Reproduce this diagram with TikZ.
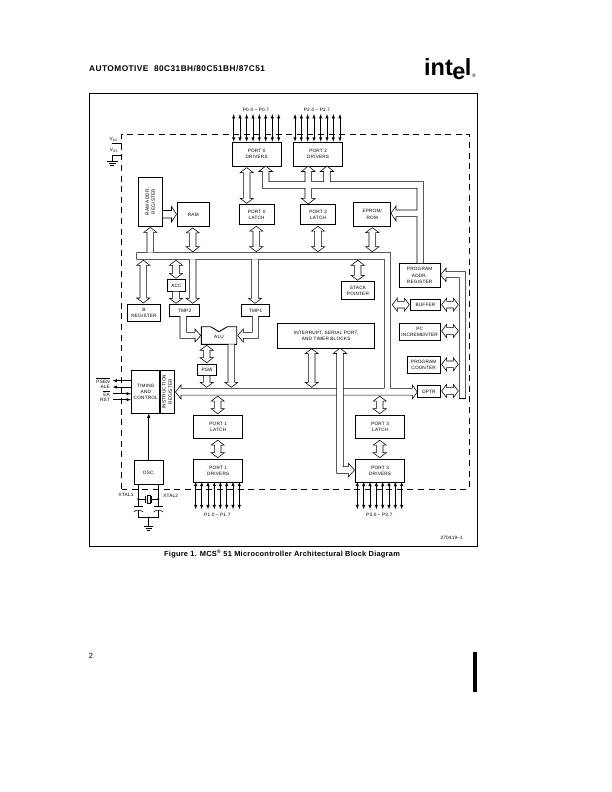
\documentclass[tikz,border=0pt]{standalone}
\usepackage{fontspec}
\setmainfont{Liberation Sans}
\newfontfamily\chipfont[LetterSpace=4]{Liberation Sans}
\newfontfamily\headfont[LetterSpace=5.5]{Liberation Sans}
\newfontfamily\capfont[LetterSpace=3.5]{Liberation Sans}
\usepackage{tikz}
\usetikzlibrary{calc, arrows, positioning}

\tikzset{
  block/.style={draw, line width=0.9pt, align=center, inner sep=0pt, font=\chipfont\fontsize{4.7}{6.2}\selectfont, anchor=north west},
  lbl/.style={inner sep=0pt, font=\chipfont\fontsize{4.7}{6.2}\selectfont},
  busline/.style={draw, fill=white, line width=0.55pt, line join=miter},
  wire/.style={line width=0.55pt},
  pin/.style={<->, >=latex, line width=0.55pt},
  dashbox/.style={line width=0.9pt, dash pattern=on 6pt off 4.6pt},
  bar/.style={line width=0.5pt}
}

% block with corners given in page units
\newcommand{\blk}[6]{\node[block, minimum width=#5-#3, minimum height=#6-#4] (#1) at (#3,#4) {#2};}
% two-way bus arrow, vertical: x, upper point, lower point
\newcommand{\vtwo}[3]{\draw[busline] let \p1=(#2), \p2=(#3) in
  (#1pt,\y1-1pt) -- (#1pt+6.6pt,\y1-6pt) -- (#1pt+3.3pt,\y1-6pt) -- (#1pt+3.3pt,\y2+6pt) -- (#1pt+6.6pt,\y2+6pt) -- (#1pt,\y2+1pt)
  -- (#1pt-6.6pt,\y2+6pt) -- (#1pt-3.3pt,\y2+6pt) -- (#1pt-3.3pt,\y1-6pt) -- (#1pt-6.6pt,\y1-6pt) -- cycle;}
% same, horizontal: y (from page top), left point, right point
\newcommand{\htwo}[3]{\draw[busline] let \p1=(#2), \p2=(#3) in
  (\x1+1pt,-#1pt) -- (\x1+6pt,-#1pt+6.6pt) -- (\x1+6pt,-#1pt+3.3pt) -- (\x2-6pt,-#1pt+3.3pt) -- (\x2-6pt,-#1pt+6.6pt) -- (\x2-1pt,-#1pt)
  -- (\x2-6pt,-#1pt-6.6pt) -- (\x2-6pt,-#1pt-3.3pt) -- (\x1+6pt,-#1pt-3.3pt) -- (\x1+6pt,-#1pt-6.6pt) -- cycle;}
% one-way bus arrow pointing down: x, start, tip
\newcommand{\vdown}[3]{\draw[busline] let \p1=(#2), \p2=(#3) in
  (#1pt-3.3pt,\y1) -- (#1pt-3.3pt,\y2+6pt) -- (#1pt-6.6pt,\y2+6pt) -- (#1pt,\y2+1pt) -- (#1pt+6.6pt,\y2+6pt) -- (#1pt+3.3pt,\y2+6pt) -- (#1pt+3.3pt,\y1);}
% one-way bus arrow pointing up
\newcommand{\vup}[3]{\draw[busline] let \p1=(#2), \p2=(#3) in
  (#1pt-3.3pt,\y1) -- (#1pt-3.3pt,\y2-6pt) -- (#1pt-6.6pt,\y2-6pt) -- (#1pt,\y2-1pt) -- (#1pt+6.6pt,\y2-6pt) -- (#1pt+3.3pt,\y2-6pt) -- (#1pt+3.3pt,\y1);}

\begin{document}
\begin{tikzpicture}[x=1pt,y=-1pt]
    \useasboundingbox (0,0) rectangle (612,792);
    % Page head
    \node[inner sep=0pt, anchor=west, font=\headfont\fontsize{8.3}{9}\bfseries] (head) at (89,68.5) {AUTOMOTIVE\ \ 80C31BH/80C51BH/87C51};
    \node[inner sep=0pt, anchor=base west, font=\fontsize{23.5}{23.5}\bfseries] (logo) at (424,75.5) {int\kern-.02em\raisebox{-.17em}{e}\kern-.03em l};
    \node[inner sep=0pt, font=\fontsize{5}{6}\selectfont] (reg) at (474,76) {®};
    % Frame and dashed chip outline
    \draw[line width=0.9pt] (89.5,93.5) rectangle (477,546.5);
    \draw[dashbox] (121.7,489) -- (121.7,134) -- (469,134) -- (469,489) -- cycle;

    % Blocks
    \blk{portzdrv}{PORT 0\\DRIVERS}{231.7}{141.7}{280.7}{165.7}
    \blk{porttdrv}{PORT 2\\DRIVERS}{293}{141.7}{342.3}{165.7}
    \blk{portzlat}{PORT 0\\LATCH}{238.7}{204.3}{273.7}{224.3}
    \blk{porttlat}{PORT 2\\LATCH}{300}{204.3}{335.3}{224.3}
    \blk{eprom}{EPROM/\\ROM}{353.3}{202}{390.3}{225.7}
    \blk{ram}{RAM}{177}{202}{208.7}{226}
    \node[draw, line width=0.9pt, minimum width=24.0pt, minimum height=49pt, inner sep=0pt] (ramaddr) at (150.3,201.5) {};
    \node[lbl, rotate=90, align=center] (ramaddrtxt) at (ramaddr) {RAM ADDR.\\REGISTER};
    \blk{breg}{B\\REGISTER}{127.3}{304}{159.7}{321}
    \blk{acc}{ACC}{166.7}{279.3}{185.3}{290.7}
    \blk{tmptwo}{TMP2}{169.3}{304.3}{199}{315.7}
    \blk{tmpone}{TMP1}{241}{304.3}{269.3}{315.7}
    \blk{psw}{PSW}{197.3}{363.7}{216}{375}
    \blk{stack}{STACK\\POINTER}{341}{281.3}{374}{299.3}
    \blk{intr}{INTERRUPT, SERIAL PORT,\\AND TIMER BLOCKS}{277.3}{323}{374}{347.7}
    \blk{progaddr}{PROGRAM\\ADDR.\\REGISTER}{398.7}{263}{439.7}{287}
    \blk{buffer}{BUFFER}{410.3}{299}{439.7}{310.3}
    \blk{pcinc}{PC\\INCREMENTER}{398.7}{322.7}{439.7}{340}
    \blk{progcnt}{PROGRAM\\COUNTER}{406.7}{356}{439.7}{373.3}
    \blk{dptr}{DPTR}{417.3}{385}{439.7}{397}
    \blk{timing}{TIMING\\AND\\CONTROL}{131}{370}{159.7}{413.3}
    \node[draw, line width=0.9pt, minimum width=15pt, minimum height=43.3pt, inner sep=0pt] (instr) at (167.2,391.65) {};
    \node[lbl, rotate=90, align=center] (instrtxt) at (instr) {INSTRUCTION\\REGISTER};
    \blk{portolat}{PORT 1\\LATCH}{193.3}{414.7}{242.3}{438.3}
    \blk{portodrv}{PORT 1\\DRIVERS}{193.3}{458.7}{242.3}{481.7}
    \blk{portrlat}{PORT 3\\LATCH}{355}{414.7}{404.3}{438.3}
    \blk{portrdrv}{PORT 3\\DRIVERS}{355}{458.7}{404.3}{481.7}
    \blk{osc}{OSC.}{134.3}{460.3}{162.7}{483.7}
    % ALU with its notch
    \draw[line width=0.9pt] (201.3,326.7) -- (210.7,326.7) -- (219,331.7) -- (227.3,326.7) -- (236.7,326.7) -- (236.7,344.3) -- (201.3,344.3) -- cycle;
    \node[lbl] (alu) at (219,337) {ALU};

    % Internal bus, top rail down to the lower rail
    \draw[busline, fill=none] (384.3,388.3) -- (384.3,259.3) -- (136.7,259.3) -- (136.7,252.7) -- (390.7,252.7) -- (390.7,388.3) -- (412.3,388.3) -- (412.3,385) -- (417.3,392) -- (412.3,399) -- (412.3,395.2) -- (181,395.2) -- (181,399) -- (175.5,392) -- (181,385) -- (181,388.3) -- (384.3,388.3);

    % Bus arrows on the upper half
    \vtwo{246.7}{portzdrv.south}{portzlat.north}
    \vtwo{256.3}{portzlat.south}{256.3,252.7}
    \vtwo{318}{porttlat.south}{318,252.7}
    \vtwo{372.3}{eprom.south}{372.3,252.7}
    \vtwo{192.7}{ram.south}{192.7,252.7}
    \vup{150.3}{150.3,252.7}{ramaddr.south}
    \vtwo{143.3}{143.3,259.3}{breg.north}
    \vtwo{176}{176,259.3}{acc.north}
    \vdown{176}{acc.south}{tmptwo.north}
    \vdown{192.7}{192.7,259.3}{tmptwo.north}
    \vdown{255}{255,259.3}{tmpone.north}
    \vtwo{357.7}{357.7,259.3}{stack.north}
    % RAM address into RAM
    \draw[busline] (ramaddr.east |- 0,210.5) -- (171.5,210.5) -- (171.5,206.5) -- (176.5,214.3) -- (171.5,222) -- (171.5,218) -- (ramaddr.east |- 0,218);
    % Address path behind the port drivers and the EPROM
    \draw[busline] (417,263) -- (417,216.7) -- (396,216.7) -- (396,221) -- (391,213.3) -- (396,206) -- (396,210) -- (417,210) -- (417,188.3) -- (311.7,188.3) -- (311.7,198.3) -- (315.3,198.3) -- (308.3,204) -- (301.3,198.3) -- (305,198.3) -- (305,188.3) -- (262.3,188.3) -- (262.3,171.5) -- (258.9,171.5) -- (265.7,166) -- (272.5,171.5) -- (269,171.5) -- (269,181.7) -- (305,181.7) -- (305,171.5) -- (301.6,171.5) -- (308.3,166) -- (315,171.5) -- (311.7,171.5) -- (311.7,181.7) -- (323.7,181.7) -- (323.7,171.5) -- (320.3,171.5) -- (327,166) -- (333.7,171.5) -- (330.3,171.5) -- (330.3,181.7) -- (423.7,181.7) -- (423.7,263);

    % ALU connections
    \draw[busline] (180,316) -- (180,338.3) -- (195,338.3) -- (195,342) -- (200.7,335.5) -- (195,329) -- (195,332.3) -- (186.7,332.3) -- (186.7,316);
    \draw[busline] (258.7,316) -- (258.7,338.3) -- (243.3,338.3) -- (243.3,342) -- (237.7,335.5) -- (243.3,329) -- (243.3,332.3) -- (252.3,332.3) -- (252.3,316);
    \vtwo{206.7}{206.7,344.3}{psw.north}
    \vdown{206.7}{psw.south}{206.7,388.3}
    \vdown{231.3}{231.3,344.3}{231.3,388.3}

    % Interrupt block to the bus and port 3
    \vtwo{311.7}{311.7,347.7}{311.7,388.3}
    \draw[busline] (336.7,473.3) -- (336.7,353.5) -- (333.3,353.5) -- (340,348) -- (346.7,353.5) -- (343.3,353.5) -- (343.3,466.7) -- (348.3,466.7) -- (348.3,463.3) -- (354.5,470) -- (348.3,477) -- (348.3,473.3) -- cycle;

    % Lower ports
    \vtwo{217.7}{217.7,395.2}{portolat.north}
    \vtwo{217.7}{portolat.south}{portodrv.north}
    \vtwo{379.7}{379.7,395.2}{portrlat.north}
    \vtwo{379.7}{portrlat.south}{portrdrv.north}

    % Right hand bus
    \draw[busline, fill=none] (459.3,398.5) -- (459.3,277.7) -- (446,277.7) -- (446,281.5) -- (440.5,275) -- (446,268) -- (446,271.7) -- (465.7,271.7) -- (465.7,398.5) -- cycle;
    \htwo{304.7}{391.3,304.7}{buffer.west}
    \htwo{304.7}{buffer.east}{459.3,304.7}
    \htwo{331}{pcinc.east}{459.3,331}
    \htwo{364.3}{progcnt.east}{459.3,364.3}
    \htwo{391}{dptr.east}{459.3,391}

    % Port pins
    \foreach \px in {233.7,240,246.7,253,259.3,265.7,272.3,278.7}
      \draw[pin] (\px,114) -- (\px,141.7);
    \foreach \px in {295,301.3,307.7,314,320.7,327,333.3,340}
      \draw[pin] (\px,114) -- (\px,141.7);
    \foreach \px in {195.7,201.7,208,214.3,220.3,226.7,233,239.3}
      \draw[pin] (\px,481.7) -- (\px,509.3);
    \foreach \px in {357.3,363.7,370,376.3,382.7,389,395.3,401.7}
      \draw[pin] (\px,481.7) -- (\px,509.3);
    \node[lbl] (pzero) at (256,109.7) {P0.0 \textminus\ P0.7};
    \node[lbl] (ptwo) at (317,109.7) {P2.0 \textminus\ P2.7};
    \node[lbl] (pone) at (217.3,514.7) {P1.0 \textminus\ P1.7};
    \node[lbl] (pthree) at (379.3,514.7) {P3.0 \textminus\ P3.7};
    \node[lbl] (partno) at (451.7,538) {270419\textendash 1};

    % Supply pins
    \node[lbl] (vcc) at (114,139) {V\textsubscript{CC}};
    \node[lbl] (vss) at (114,150.5) {V\textsubscript{SS}};
    \coordinate (vccend) at (121.7,143.3);
    \coordinate (vssend) at (121.7,155.7);
    \coordinate (gndtop) at (112.3,161);
    \draw[wire] (112,143.3) -- (vccend);
    \draw[wire] (vssend) -- (112.3,155.7) -- (gndtop);
    \draw[bar] (106.7,161) -- (118,161) (108.5,163) -- (116.2,163) (110.3,165) -- (114.3,165);

    % Control signals
    \node[lbl, anchor=east] (psen) at (110,380.7) {$\overline{\hbox{PSEN}}$};
    \node[lbl, anchor=east] (ale) at (110,387) {ALE};
    \node[lbl, anchor=east] (ea) at (110,393.7) {$\overline{\hbox{EA}}$};
    \node[lbl, anchor=east] (rst) at (110,399.7) {RST};
    \draw[wire, ->, >=latex] (timing.west |- psen) -- ++(-18.5,0);
    \draw[wire, ->, >=latex] (timing.west |- ale) -- ++(-18.5,0);
    \draw[wire, <-, >=latex] (timing.west |- ea) -- ++(-18.5,0);
    \draw[wire, <-, >=latex] (timing.west |- rst) -- ++(-18.5,0);

    % Oscillator and crystal
    \draw[wire, ->, >=latex] (148.7,460.3) -- (148.7,413.3);
    \coordinate (xlo) at (138.3,483.7);
    \coordinate (xhi) at (158.3,483.7);
    \draw[wire] (xlo) -- (138.3,506.7) (xhi) -- (158.3,506.7);
    \draw[wire] (134,506.7) -- (143.3,506.7) (153.7,506.7) -- (163,506.7);
    \draw[wire] (134,512) .. controls (135,510.5) and (136,510.5) .. (138.3,510.5) .. controls (140.5,510.5) and (142,510.5) .. (143.3,512);
    \draw[wire] (153.7,512) .. controls (155,510.5) and (156,510.5) .. (158.3,510.5) .. controls (160.5,510.5) and (162,510.5) .. (163,512);
    \draw[wire] (138.3,510.5) -- (138.3,517.7) -- (158.3,517.7) -- (158.3,510.5);
    \draw[wire] (148.7,517.7) -- (148.7,526.7);
    \draw[bar] (144,526.7) -- (153.4,526.7) (145.5,528.7) -- (151.9,528.7) (147.2,530.7) -- (150.2,530.7);
    \draw[wire] (138.3,499) -- (145.3,499) (145.3,495.5) -- (145.3,502.5) (151.5,495.5) -- (151.5,502.5) (151.5,499) -- (158.3,499);
    \draw[wire] (146.8,495) rectangle (150,503);
    \fill (138.3,499) circle (1.2) (158.3,499) circle (1.2) (148.7,517.7) circle (1.2);
    \node[lbl] (xtalone) at (126,495) {XTAL1};
    \node[lbl] (xtaltwo) at (170.7,496) {XTAL2};

    % Caption and foot of the page
    \node[inner sep=0pt, font=\capfont\fontsize{7.4}{9}\bfseries] (caption) at (282,553.5) {Figure 1. MCS\textsuperscript{®} 51 Microcontroller Architectural Block Diagram};
    \node[inner sep=0pt, font=\fontsize{7.5}{9}\selectfont] (pageno) at (91,655.5) {2};
    \fill (473.3,652) rectangle (477.3,692);
\end{tikzpicture}
\end{document}
